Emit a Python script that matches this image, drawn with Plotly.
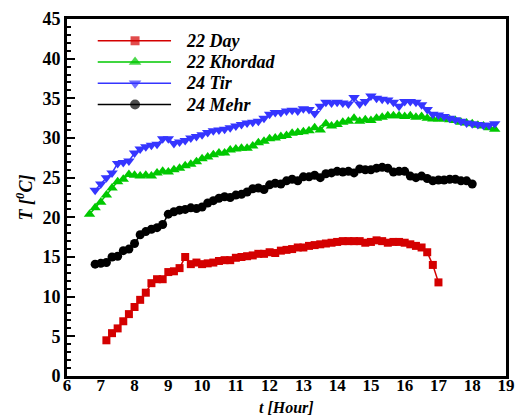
import numpy as np
import plotly.graph_objects as go

# Air temperature logged every 10 minutes on four days
step_h = 1.0 / 6.0

day_start = 7 + 10 / 60
day_temp = [4.5, 5.4, 6.0, 6.9, 7.8, 8.7, 9.6, 10.5, 11.7, 12.2, 12.2, 13.1, 13.2, 13.6,
            15.0, 14.1, 14.3, 14.1, 14.2, 14.3, 14.5, 14.6, 14.6, 14.9, 15.0, 15.1, 15.2,
            15.4, 15.4, 15.6, 15.5, 15.8, 15.9, 16.0, 16.2, 16.2, 16.4, 16.5, 16.6, 16.7,
            16.8, 16.9, 17.0, 17.0, 17.0, 17.0, 16.8, 16.9, 17.1, 17.0, 16.8, 16.9, 16.9,
            16.8, 16.6, 16.4, 16.2, 15.6, 14.0, 11.8]

khordad_start = 6 + 40 / 60
khordad_temp = [20.4, 21.2, 21.9, 22.8, 23.7, 24.5, 24.8, 25.4, 25.3, 25.2, 25.3, 25.2,
                25.6, 25.8, 25.7, 26.0, 26.2, 26.5, 26.7, 27.0, 27.4, 27.6, 27.9, 28.1,
                28.1, 28.5, 28.6, 28.7, 28.7, 29.0, 29.4, 29.6, 29.9, 30.0, 30.2, 30.3,
                30.6, 30.7, 30.8, 30.9, 31.3, 31.0, 31.8, 31.5, 31.7, 32.0, 32.1, 32.5,
                32.1, 32.3, 32.2, 32.5, 32.6, 32.8, 32.8, 32.8, 32.7, 32.8, 32.6, 32.7,
                32.5, 32.4, 32.4, 32.4, 32.3, 32.2, 32.0, 31.9, 31.8, 31.6, 31.5, 31.3, 31.1]

tir_start = 6 + 50 / 60
tir_temp = [23.4, 24.2, 25.0, 25.6, 26.8, 26.9, 27.1, 28.1, 28.6, 28.9, 29.1, 29.2, 29.9,
            29.9, 29.3, 29.5, 29.7, 30.0, 30.2, 30.4, 30.7, 30.9, 31.0, 31.1, 31.3, 31.5,
            31.7, 31.9, 32.0, 32.1, 32.5, 33.0, 33.2, 33.2, 33.4, 33.5, 33.4, 33.7, 33.6,
            33.1, 34.0, 34.5, 34.4, 34.5, 34.4, 34.3, 35.1, 34.3, 34.6, 35.3, 35.0, 34.9,
            34.8, 34.5, 34.0, 34.6, 34.6, 34.5, 34.2, 33.6, 33.0, 32.9, 32.7, 32.5, 32.3,
            32.1, 31.9, 31.8, 31.7, 31.6, 31.6, 31.8]

mehr_start = 6 + 50 / 60
mehr_temp = [14.1, 14.2, 14.3, 15.0, 15.1, 15.8, 16.0, 16.7, 17.8, 18.2, 18.5, 18.7, 19.1,
             20.4, 20.7, 20.9, 21.0, 21.2, 21.1, 21.3, 21.8, 22.1, 22.4, 22.6, 22.5, 22.8,
             22.9, 23.2, 23.6, 23.7, 23.5, 24.1, 24.3, 24.2, 24.6, 24.8, 24.6, 25.1, 25.1,
             25.3, 25.0, 25.5, 25.6, 25.8, 25.7, 25.8, 25.6, 26.1, 26.0, 26.0, 26.2, 26.3,
             26.2, 25.7, 25.8, 25.8, 25.2, 25.0, 25.2, 24.9, 24.6, 24.7, 24.7, 24.8, 24.8,
             24.6, 24.6, 24.2]

series_names = ["22 Day", "22 Khordad", "24 Tir", "24 Mehr"]
series_starts = [day_start, khordad_start, tir_start, mehr_start]
series_temps = [day_temp, khordad_temp, tir_temp, mehr_temp]

x_ticks = list(range(6, 20))
y_ticks = list(range(0, 50, 5))

colors = ["#D40000", "#00C800", "#3535FF", "#000000"]
symbols = ["square", "triangle-up", "triangle-down", "circle"]
sizes = [8, 10, 10, 9]

font_family = "Liberation Serif"

fig = go.Figure()
for name, start, temps, color, symbol, size in zip(series_names, series_starts,
                                                   series_temps, colors, symbols, sizes):
    hours = start + step_h * np.arange(len(temps))
    fig.add_trace(go.Scatter(
        x=hours, y=temps, name=name, mode="lines+markers", showlegend=False,
        line=dict(color=color, width=1.5),
        marker=dict(symbol=symbol, size=size, color=color, line=dict(width=0)),
    ))

# Hand-drawn key in the upper-left corner, on an overlay axis spanning the plot area
key_x0, key_xm, key_x1, key_text_x = 0.07, 0.155, 0.237, 0.267
key_top, key_gap = 0.939, 0.0595
for i, (name, color, symbol, size) in enumerate(zip(series_names, colors, symbols, sizes)):
    ky = key_top - i * key_gap
    fig.add_trace(go.Scatter(
        x=[key_x0, key_xm, key_x1], y=[ky, ky, ky], xaxis="x2", yaxis="y2",
        mode="lines+markers", showlegend=False, hoverinfo="skip",
        line=dict(color=color, width=1.5),
        marker=dict(symbol=symbol, size=[0, size + 1, 0], color=color, line=dict(width=0)),
    ))
    fig.add_annotation(
        x=key_text_x, y=ky, xref="x2", yref="y2", xanchor="left", yanchor="middle",
        text=f"<b><i>{name}</i></b>", showarrow=False,
        font=dict(family=font_family, size=18, color="black"),
    )

# x-axis title placed just under the tick labels
fig.add_annotation(
    x=0.5, y=-0.114, xref="paper", yref="paper", xanchor="center", yanchor="bottom",
    text="<b><i>t [Hour]</i></b>", showarrow=False, borderpad=0,
    font=dict(family=font_family, size=16, color="black"),
)

fig.update_layout(
    width=517, height=416,
    margin=dict(l=67, r=11, t=19, b=40),
    paper_bgcolor="white", plot_bgcolor="white",
    font=dict(family=font_family, size=18, color="black"),
    showlegend=False,
    xaxis=dict(
        range=[6, 19], tickvals=x_ticks, ticktext=[str(v) for v in x_ticks],
        showgrid=False, zeroline=False, automargin=False,
        showline=True, linecolor="black", linewidth=3, mirror=True,
        ticks="outside", ticklen=0, tickwidth=0, ticklabelstandoff=-8,
        tickfont=dict(family=font_family, size=17, weight="bold"),
    ),
    yaxis=dict(
        range=[0, 45], tickvals=y_ticks, ticktext=[str(v) for v in y_ticks],
        showgrid=False, zeroline=False, automargin=False,
        showline=True, linecolor="black", linewidth=3, mirror=True,
        ticks="inside", ticklen=8, tickwidth=2, tickcolor="black",
        minor=dict(dtick=1, ticks="inside", ticklen=4, tickwidth=1.5, tickcolor="black"),
        tickfont=dict(family=font_family, size=18, weight="bold"),
        title=dict(text="<b><i>T [<sup>0</sup>C]</i></b>",
                   font=dict(family=font_family, size=18), standoff=6),
    ),
    xaxis2=dict(overlaying="x", range=[0, 1], visible=False, fixedrange=True),
    yaxis2=dict(overlaying="y", range=[0, 1], visible=False, fixedrange=True),
)

fig.write_html("out.html")
